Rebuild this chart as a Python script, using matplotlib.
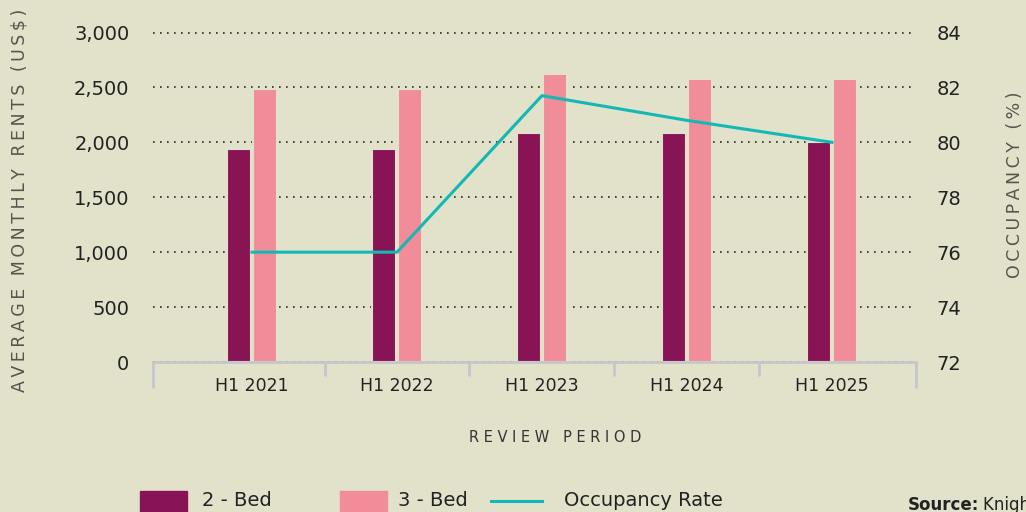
import numpy as np
import matplotlib.pyplot as plt
from matplotlib.patches import Rectangle
from matplotlib.lines import Line2D

# data ------------------------------------------------------------------------
periods = ["H1 2021", "H1 2022", "H1 2023", "H1 2024", "H1 2025"]
rent_2bed = [1940, 1940, 2085, 2085, 2000]
rent_3bed = [2490, 2490, 2620, 2575, 2575]
occupancy = [76.0, 76.0, 81.7, 80.8, 80.0]

left_ticks = [0, 500, 1000, 1500, 2000, 2500, 3000]
right_ticks = [72, 74, 76, 78, 80, 82, 84]

# style -----------------------------------------------------------------------
bg = "#E2E1CA"
c2 = "#891455"
c3 = "#F08D99"
cline = "#12B8B5"
txt = "#222222"

plt.rcParams["font.family"] = ["DejaVu Sans"]

W, H = 1026, 512
fig = plt.figure(figsize=(W / 100, H / 100), dpi=100, facecolor=bg)
ax = fig.add_axes([153 / W, (H - 362) / H, 763 / W, (362 - 32.5) / H])
ax.set_facecolor(bg)

x = np.arange(len(periods))
bw = 0.166
off = 0.088
ax.bar(x - off, rent_2bed, width=bw, color=c2, edgecolor=bg, linewidth=1.5, zorder=3)
ax.bar(x + off, rent_3bed, width=bw, color=c3, edgecolor=bg, linewidth=1.5, zorder=3)

ax.set_xlim(-0.683, 4.58)
ax.set_ylim(0, 3000)
ax.set_yticks(left_ticks)
ax.set_yticklabels([f"{v:,}" for v in left_ticks])
ax.yaxis.grid(True, linestyle=(0, (1, 3.2)), linewidth=1.2, color="#2a2a2a")
ax.set_axisbelow(True)
for gl in ax.get_ygridlines():
    gl.set_clip_on(False)

for s in ["top", "right", "left"]:
    ax.spines[s].set_visible(False)
ax.spines["bottom"].set_color("#C6C6CA")
ax.spines["bottom"].set_linewidth(2)
ax.spines["bottom"].set_zorder(4)

ax.set_xticks(x)
ax.set_xticklabels(periods)
ax.set_xticks(x[:-1] + 0.5, minor=True)
ax.tick_params(axis="x", which="major", length=0, pad=11, labelsize=12.5, labelcolor=txt)
ax.tick_params(axis="x", which="minor", length=10, width=2, color="#C6C6CA", direction="out")
ax.tick_params(axis="y", length=0, pad=17, labelsize=14, labelcolor=txt)

# outer group ticks (longer)
for xe in (0, 1):
    ax.plot([xe, xe], [0, -0.08], transform=ax.transAxes, color="#C6C6CA", lw=2,
            clip_on=False, solid_capstyle="butt")

ax2 = ax.twinx()
ax2.plot(x, occupancy, color=cline, linewidth=2.2, zorder=5)
ax2.set_ylim(72, 84)
ax2.set_yticks(right_ticks)
for s in ax2.spines.values():
    s.set_visible(False)
ax2.tick_params(axis="y", length=0, pad=15, labelsize=14, labelcolor=txt)

# axis titles -----------------------------------------------------------------
ts = "\u2009"
fig.text(20 / W, 1 - 200 / H, ts.join("AVERAGE MONTHLY RENTS (US$)"), rotation=90,
         ha="center", va="center", fontsize=12.5, color="#55554f")
fig.text(1015 / W, 1 - 185 / H, ts.join("OCCUPANCY (%)"), rotation=90,
         ha="center", va="center", fontsize=12.5, color="#55554f")
fig.text(555 / W, 1 - 438 / H, " ".join("REVIEW PERIOD"), ha="center", va="center",
         fontsize=10.5, color="#333333")

# legend ----------------------------------------------------------------------
ly = 1 - 500 / H
fig.add_artist(Rectangle((140 / W, -0.05), 47 / W, 0.05 + (H - 491) / H,
                         transform=fig.transFigure, color=c2))
fig.add_artist(Rectangle((340 / W, -0.05), 47 / W, 0.05 + (H - 491) / H,
                         transform=fig.transFigure, color=c3))
fig.add_artist(Line2D([491 / W, 542 / W], [1 - 501 / H, 1 - 501 / H],
                      transform=fig.transFigure, color=cline, lw=2.2))
fig.text(202 / W, ly, "2 - Bed", ha="left", va="center", fontsize=14, color=txt)
fig.text(398 / W, ly, "3 - Bed", ha="left", va="center", fontsize=14, color=txt)
fig.text(564 / W, ly, "Occupancy Rate", ha="left", va="center", fontsize=14, color=txt)
fig.text(908 / W, 1 - 505 / H, "Source:", ha="left", va="center", fontsize=12,
         fontweight="bold", color=txt)
fig.text(983 / W, 1 - 505 / H, "Knight Frank", ha="left", va="center", fontsize=12,
         color=txt)

plt.savefig("out.png", dpi=100, facecolor=bg)
